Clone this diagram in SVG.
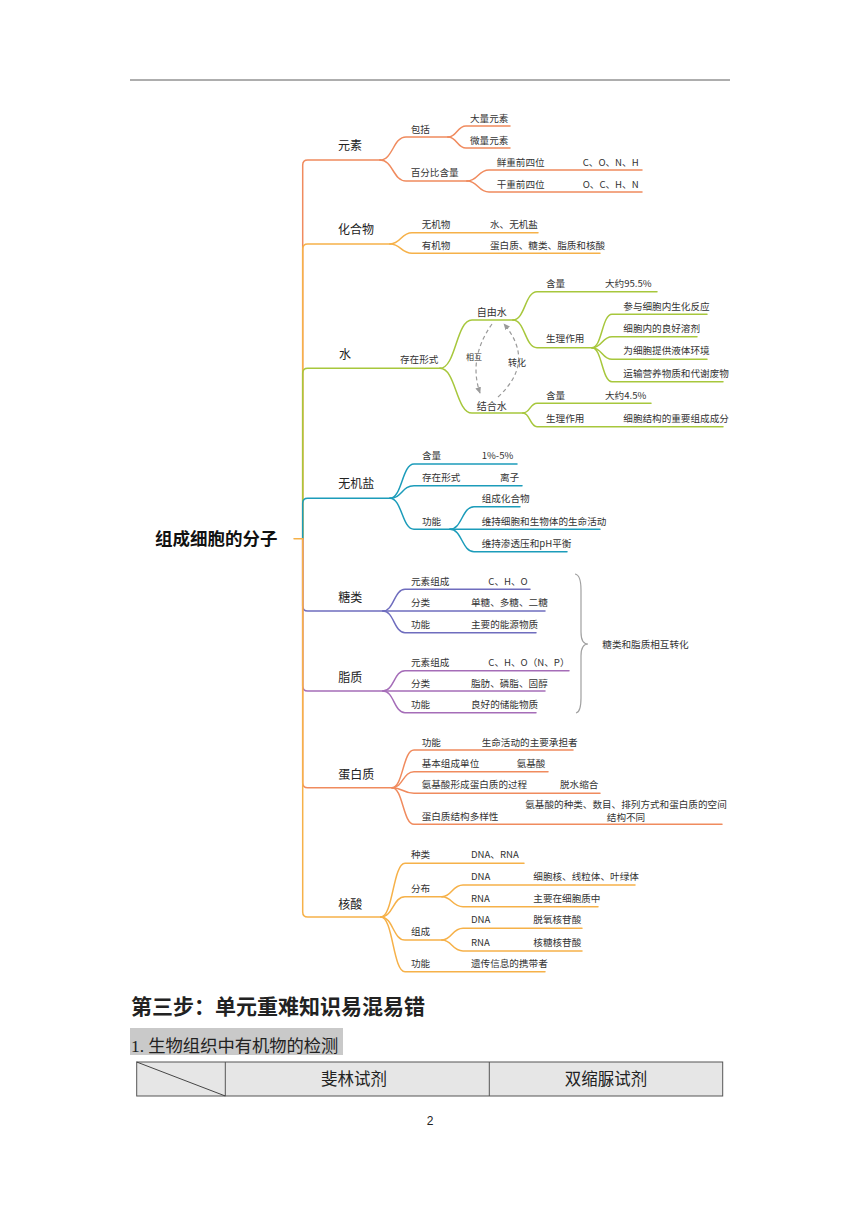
<svg xmlns="http://www.w3.org/2000/svg" width="860" height="1216" viewBox="0 0 860 1216">
<defs>
<style>
.t{font-family:"Noto Sans CJK SC","Noto Sans",sans-serif;font-size:9.6px;fill:#333}
.m{font-size:12px;fill:#222}
.r{font-size:17.5px;font-weight:700;fill:#111}
.c{fill:none;stroke-width:1.5;stroke-linecap:round}
.o{stroke:#F08B5E}
.y{stroke:#F6B149}
.g{stroke:#A7C73C}
.b{stroke:#1C9CBA}
.p{stroke:#6F6DBE}
.v{stroke:#A56DB8}
.d{fill:none;stroke:#9a9a9a;stroke-width:1.2;stroke-dasharray:4 3}
.doc{font-family:"Noto Sans CJK SC","Noto Sans",sans-serif;fill:#222}
</style>
<marker id="ah" viewBox="0 0 10 10" refX="8" refY="5" markerWidth="6" markerHeight="6" orient="auto">
<path d="M0,1 L9,5 L0,9 z" fill="#9a9a9a"/>
</marker>
</defs>
<rect width="860" height="1216" fill="#fff"/>
<line x1="130" y1="80" x2="730" y2="80" stroke="#333" stroke-width="0.8"/>

<g id="connectors">
<!-- 元素 -->
<path class="c o" d="M302.7,538.7 V165 Q302.7,160 307.7,160 H380"/>
<path class="c o" d="M380,160 C393,160 393,137 406,137 H448"/>
<path class="c o" d="M448,137 C457,137 457,126 466,126 H510"/>
<path class="c o" d="M448,137 C457,137 457,148 466,148 H510"/>
<path class="c o" d="M380,160 C393,160 393,181 406,181 H467"/>
<path class="c o" d="M467,181 C478,181 478,170 489,170 H642"/>
<path class="c o" d="M467,181 C478,181 478,192 489,192 H642"/>
<!-- 化合物 -->
<path class="c y" d="M302.7,538.7 V249 Q302.7,244 307.7,244 H390"/>
<path class="c y" d="M390,244 C401,244 401,232.7 412,232.7 H538"/>
<path class="c y" d="M390,244 C401,244 401,253.3 412,253.3 H600"/>
<!-- 水 -->
<path class="c g" d="M302.7,538.7 V373.3 Q302.7,368.3 307.7,368.3 H440"/>
<path class="c g" d="M440,368.3 C456,368.3 456,320 472,320 H513"/>
<path class="c g" d="M440,368.3 C456,368.3 456,413 472,413 H523"/>
<path class="c g" d="M513,320 C525,320 525,291.7 537,291.7 H657"/>
<path class="c g" d="M513,320 C525,320 525,347.7 537,347.7 H592"/>
<path class="c g" d="M592,347.7 C602,347.7 602,314.3 612,314.3 H707"/>
<path class="c g" d="M592,347.7 C602,347.7 602,336.7 612,336.7 H697"/>
<path class="c g" d="M592,347.7 C602,347.7 602,359.3 612,359.3 H707"/>
<path class="c g" d="M592,347.7 C602,347.7 602,381.7 612,381.7 H723"/>
<path class="c g" d="M523,413 C530,413 530,403.3 537,403.3 H651"/>
<path class="c g" d="M523,413 C530,413 530,426.7 537,426.7 H723"/>
<path class="d" d="M492,324 Q468,358 480,393" marker-end="url(#ah)"/>
<path class="d" d="M498,397 Q536,362 504,324" marker-end="url(#ah)"/>
<!-- 无机盐 -->
<path class="c b" d="M302.7,538.7 V503.3 Q302.7,498.3 307.7,498.3 H390"/>
<path class="c b" d="M390,498.3 C402,498.3 402,464 414,464 H517"/>
<path class="c b" d="M390,498.3 C402,498.3 402,485.7 414,485.7 H522"/>
<path class="c b" d="M390,498.3 C402,498.3 402,529.3 414,529.3 H450"/>
<path class="c b" d="M450,529.3 C462,529.3 462,506.7 474,506.7 H520"/>
<path class="c b" d="M450,529.3 H600"/>
<path class="c b" d="M450,529.3 C462,529.3 462,551.7 474,551.7 H567"/>
<!-- 糖类 -->
<path class="c p" d="M302.7,538.7 V606 Q302.7,611 307.7,611 H383"/>
<path class="c p" d="M383,611 C394,611 394,589.3 405,589.3 H530"/>
<path class="c p" d="M383,611 H545"/>
<path class="c p" d="M383,611 C394,611 394,632.7 405,632.7 H536"/>
<!-- 脂质 -->
<path class="c v" d="M302.7,538.7 V686 Q302.7,691 307.7,691 H383"/>
<path class="c v" d="M383,691 C394,691 394,670.7 405,670.7 H569"/>
<path class="c v" d="M383,691 H545"/>
<path class="c v" d="M383,691 C394,691 394,712.7 405,712.7 H536"/>
<path fill="none" stroke="#a0a0a0" stroke-width="1.2" d="M575,574 Q581,575 581,590 V632 Q581,644 588,644 Q581,644 581,656 V698 Q581,712 576,713"/>
<!-- 蛋白质 -->
<path class="c o" d="M302.7,538.7 V782.7 Q302.7,787.7 307.7,787.7 H392"/>
<path class="c o" d="M392,787.7 C403,787.7 403,750 414,750 H573"/>
<path class="c o" d="M392,787.7 C403,787.7 403,771.7 414,771.7 H548"/>
<path class="c o" d="M392,787.7 C403,787.7 403,793.3 414,793.3 H600"/>
<path class="c o" d="M392,787.7 C403,787.7 403,824.3 414,824.3 H722"/>
<!-- 核酸 -->
<path class="c y" d="M302.7,538.7 V912 Q302.7,917 307.7,917 H381"/>
<path class="c y" d="M381,917 C393,917 393,863.3 405,863.3 H524"/>
<path class="c y" d="M381,917 C393,917 393,896.7 405,896.7 H442"/>
<path class="c y" d="M381,917 C393,917 393,940 405,940 H442"/>
<path class="c y" d="M381,917 C393,917 393,971.7 405,971.7 H545"/>
<path class="c y" d="M442,896.7 C452,896.7 452,885 463,885 H635"/>
<path class="c y" d="M442,896.7 C452,896.7 452,906.7 463,906.7 H598"/>
<path class="c y" d="M442,940 C452,940 452,928.3 463,928.3 H582"/>
<path class="c y" d="M442,940 C452,940 452,951 463,951 H582"/>
<!-- root stub -->
<path class="c y" d="M294,538.7 H302.7"/>
</g>

<g id="root"><text class="t r" x="155" y="545">组成细胞的分子</text></g>

<g id="n-yuansu"><text class="t m" x="338" y="150">元素</text></g>
<g id="n-baokuo"><text class="t" x="410.7" y="132.7">包括</text></g>
<g id="n-daliang"><text class="t" x="470" y="121.7">大量元素</text></g>
<g id="n-weiliang"><text class="t" x="470" y="144">微量元素</text></g>
<g id="n-baifenbi"><text class="t" x="410.7" y="176">百分比含量</text></g>
<g id="n-xianzhong"><text class="t" x="496.7" y="165.7">鲜重前四位</text><text class="t" x="582.7" y="165.7">C、O、N、H</text></g>
<g id="n-ganzhong"><text class="t" x="496.7" y="187.7">干重前四位</text><text class="t" x="582.7" y="187.7">O、C、H、N</text></g>

<g id="n-huahewu"><text class="t m" x="338" y="233.5">化合物</text></g>
<g id="n-wujiwu"><text class="t" x="421.7" y="227.7">无机物</text><text class="t" x="490" y="227.7">水、无机盐</text></g>
<g id="n-youjiwu"><text class="t" x="421.7" y="249.1">有机物</text><text class="t" x="490" y="249.1">蛋白质、糖类、脂质和核酸</text></g>

<g id="n-shui"><text class="t m" x="339" y="358.8">水</text></g>
<g id="n-cunzai"><text class="t" x="400" y="362.7">存在形式</text></g>
<g id="n-ziyoushui"><text class="t" x="476.7" y="315.9" style="font-size:10px">自由水</text></g>
<g id="n-jiehesui"><text class="t" x="476.7" y="409.6" style="font-size:10px">结合水</text></g>
<g id="n-hanliang1"><text class="t" x="546" y="287.4">含量</text><text class="t" x="605" y="287.4">大约95.5%</text></g>
<g id="n-shengli1"><text class="t" x="546" y="342.4">生理作用</text></g>
<g id="n-l1"><text class="t" x="623.3" y="310.1">参与细胞内生化反应</text></g>
<g id="n-l2"><text class="t" x="623.3" y="331.7">细胞内的良好溶剂</text></g>
<g id="n-l3"><text class="t" x="623.3" y="354.4">为细胞提供液体环境</text></g>
<g id="n-l4"><text class="t" x="623.3" y="376.7">运输营养物质和代谢废物</text></g>
<g id="n-hanliang2"><text class="t" x="546" y="399.4">含量</text><text class="t" x="605" y="399.4">大约4.5%</text></g>
<g id="n-shengli2"><text class="t" x="546" y="421.7">生理作用</text><text class="t" x="623.3" y="421.7">细胞结构的重要组成成分</text></g>
<g id="n-xianghu"><text class="t" x="466" y="359.6" style="font-size:8px">相互</text></g>
<g id="n-zhuanhua"><text class="t" x="508" y="365.5" style="font-size:9px">转化</text></g>

<g id="n-wujiyan"><text class="t m" x="338.3" y="487.8">无机盐</text></g>
<g id="n-hanliang3"><text class="t" x="422" y="459.4">含量</text><text class="t" x="481.7" y="459.4">1%-5%</text></g>
<g id="n-cunzai2"><text class="t" x="422" y="480.7">存在形式</text><text class="t" x="500" y="480.7">离子</text></g>
<g id="n-gongneng1"><text class="t" x="422" y="525.1">功能</text></g>
<g id="n-f1"><text class="t" x="481.7" y="502.1">组成化合物</text></g>
<g id="n-f2"><text class="t" x="481.7" y="524.7">维持细胞和生物体的生命活动</text></g>
<g id="n-f3"><text class="t" x="481.7" y="547.4">维持渗透压和pH平衡</text></g>

<g id="n-tanglei"><text class="t m" x="338.3" y="601.8">糖类</text></g>
<g id="n-t1"><text class="t" x="411" y="585.1">元素组成</text><text class="t" x="488.3" y="585.1">C、H、O</text></g>
<g id="n-t2"><text class="t" x="411" y="606.1">分类</text><text class="t" x="471" y="606.1">单糖、多糖、二糖</text></g>
<g id="n-t3"><text class="t" x="411" y="627.7">功能</text><text class="t" x="471" y="627.7">主要的能源物质</text></g>

<g id="n-zhizhi"><text class="t m" x="338.3" y="681.8">脂质</text></g>
<g id="n-z1"><text class="t" x="411" y="665.7">元素组成</text><text class="t" x="488.3" y="665.7">C、H、O（N、P）</text></g>
<g id="n-z2"><text class="t" x="411" y="686.7">分类</text><text class="t" x="471" y="686.7">脂肪、磷脂、固醇</text></g>
<g id="n-z3"><text class="t" x="411" y="707.7">功能</text><text class="t" x="471" y="707.7">良好的储能物质</text></g>
<g id="n-huzhuan"><text class="t" x="602.3" y="648.4">糖类和脂质相互转化</text></g>

<g id="n-danbaizhi"><text class="t m" x="338.3" y="778.8">蛋白质</text></g>
<g id="n-d1"><text class="t" x="421.7" y="745.7">功能</text><text class="t" x="481.7" y="745.7">生命活动的主要承担者</text></g>
<g id="n-d2"><text class="t" x="421.7" y="767.4">基本组成单位</text><text class="t" x="516.7" y="767.4">氨基酸</text></g>
<g id="n-d3"><text class="t" x="421.7" y="788.4">氨基酸形成蛋白质的过程</text><text class="t" x="560" y="788.4">脱水缩合</text></g>
<g id="n-d4"><text class="t" x="421.7" y="820.1">蛋白质结构多样性</text><text class="t" x="626" y="808" text-anchor="middle">氨基酸的种类、数目、排列方式和蛋白质的空间</text><text class="t" x="626" y="820.6" text-anchor="middle">结构不同</text></g>

<g id="n-hesuan"><text class="t m" x="338.3" y="908.5">核酸</text></g>
<g id="n-h1"><text class="t" x="411" y="858.4">种类</text><text class="t" x="471" y="858.4">DNA、RNA</text></g>
<g id="n-h2"><text class="t" x="411" y="891.7">分布</text></g>
<g id="n-h2a"><text class="t" x="471" y="880.1">DNA</text><text class="t" x="533.3" y="880.1">细胞核、线粒体、叶绿体</text></g>
<g id="n-h2b"><text class="t" x="471" y="901.7">RNA</text><text class="t" x="533.3" y="901.7">主要在细胞质中</text></g>
<g id="n-h3"><text class="t" x="411" y="935.1">组成</text></g>
<g id="n-h3a"><text class="t" x="471" y="923.4">DNA</text><text class="t" x="533.3" y="923.4">脱氧核苷酸</text></g>
<g id="n-h3b"><text class="t" x="471" y="945.7">RNA</text><text class="t" x="533.3" y="945.7">核糖核苷酸</text></g>
<g id="n-h4"><text class="t" x="411" y="966.7">功能</text><text class="t" x="471" y="966.7">遗传信息的携带者</text></g>

<g id="doc-title"><text class="doc" x="131" y="1014" style="font-size:21px;font-weight:700">第三步：单元重难知识易混易错</text></g>
<g id="doc-sub">
<rect x="130" y="1028" width="213" height="27" fill="#C9C9C9"/>
<text class="doc" x="131" y="1052" style="font-size:17.3px;font-family:'Liberation Serif','Noto Sans CJK SC',serif">1. 生物组织中有机物的检测</text>
</g>
<g id="doc-table">
<rect x="136.7" y="1062" width="586" height="34" fill="#E6E6E6" stroke="#555" stroke-width="1"/>
<line x1="225.3" y1="1062" x2="225.3" y2="1096" stroke="#555" stroke-width="1"/>
<line x1="489.3" y1="1062" x2="489.3" y2="1096" stroke="#555" stroke-width="1"/>
<line x1="136.7" y1="1062" x2="225.3" y2="1096" stroke="#333" stroke-width="0.9"/>
<text class="doc" x="354" y="1085" text-anchor="middle" style="font-size:16.5px">斐林试剂</text>
<text class="doc" x="606" y="1085" text-anchor="middle" style="font-size:16.5px">双缩脲试剂</text>
</g>
<g id="page-num"><text x="430" y="1125" text-anchor="middle" style="font-family:'Liberation Sans',sans-serif;font-size:12px;fill:#222">2</text></g>
</svg>
